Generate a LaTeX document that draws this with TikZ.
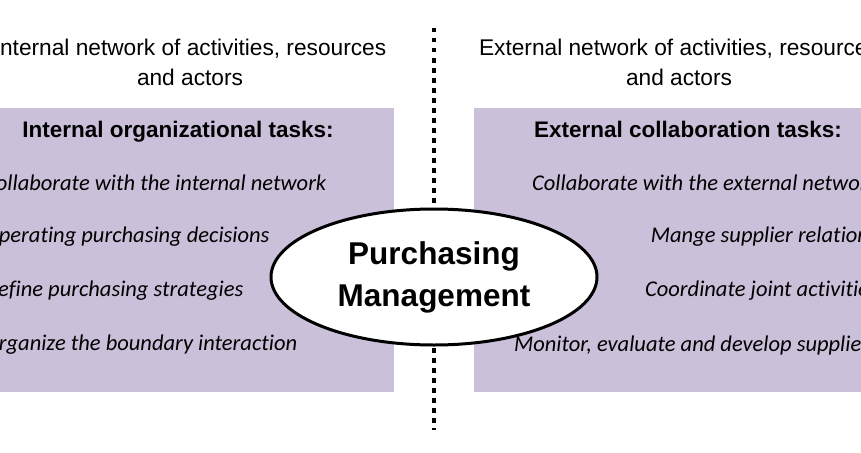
\documentclass[tikz,border=0pt]{standalone}
\usepackage{fontspec}
\setmainfont{Liberation Sans}
\newfontfamily\taskfont[Ligatures=NoCommon]{Carlito}
\usetikzlibrary{shapes.geometric}
\definecolor{boxpurple}{RGB}{203,192,218}

\begin{document}
\begin{tikzpicture}[x=1pt, y=-1pt,
        heading/.style={font=\fontsize{22.7}{30}\selectfont, align=center, inner sep=0pt},
        boxtitle/.style={font=\bfseries\fontsize{22.5}{24}\selectfont, inner sep=0pt, anchor=base},
        task/.style={font=\taskfont\itshape\fontsize{22.5}{24}\selectfont, inner sep=0pt},
        hub/.style={ellipse, draw, line width=3pt, fill=white, minimum width=326pt,
                    minimum height=136pt, inner sep=0pt, align=center,
                    font=\bfseries\fontsize{31.5}{42}\selectfont},
        boundary/.style={line width=4.5pt, dash pattern=on 4.5pt off 5.5pt}]

        \useasboundingbox (0,0) rectangle (861,452);
        \clip (0,0) rectangle (861,452);

        % shaded task areas
        \fill[boxpurple] (0,108) rectangle (394,392);
        \fill[boxpurple] (474,108) rectangle (861,392);

        % network boundary
        \coordinate (top) at (434,28);
        \coordinate (bottom) at (434,430);
        \draw[boundary] (top) -- (bottom);

        \node[heading] (inthead) at (190,62) {Internal network of activities, resources\\and actors};
        \node[heading] (exthead) at (679,62) {External network of activities, resources\\and actors};

        \node[boxtitle] (inttitle) at (178,137) {Internal organizational tasks:};
        \node[boxtitle] (exttitle) at (688,137) {External collaboration tasks:};

        \node[task, anchor=west] (int1) at (-16,183) {Collaborate with the internal network};
        \node[task, anchor=west] (int2) at (-16,237) {Operating purchasing decisions};
        \node[task, anchor=west] (int3) at (-16,291) {Define purchasing strategies};
        \node[task, anchor=west] (int4) at (-16,345) {Organize the boundary interaction};

        \node[task, anchor=east] (ext1) at (878,183) {Collaborate with the external network};
        \node[task, anchor=east] (ext2) at (878,237) {Mange supplier relations};
        \node[task, anchor=east] (ext3) at (878,291) {Coordinate joint activities};
        \node[task, anchor=east] (ext4) at (878,345) {Monitor, evaluate and develop suppliers};

        \node[hub] (hub) at (434,277) {Purchasing\\Management};

\end{tikzpicture}
\end{document}
